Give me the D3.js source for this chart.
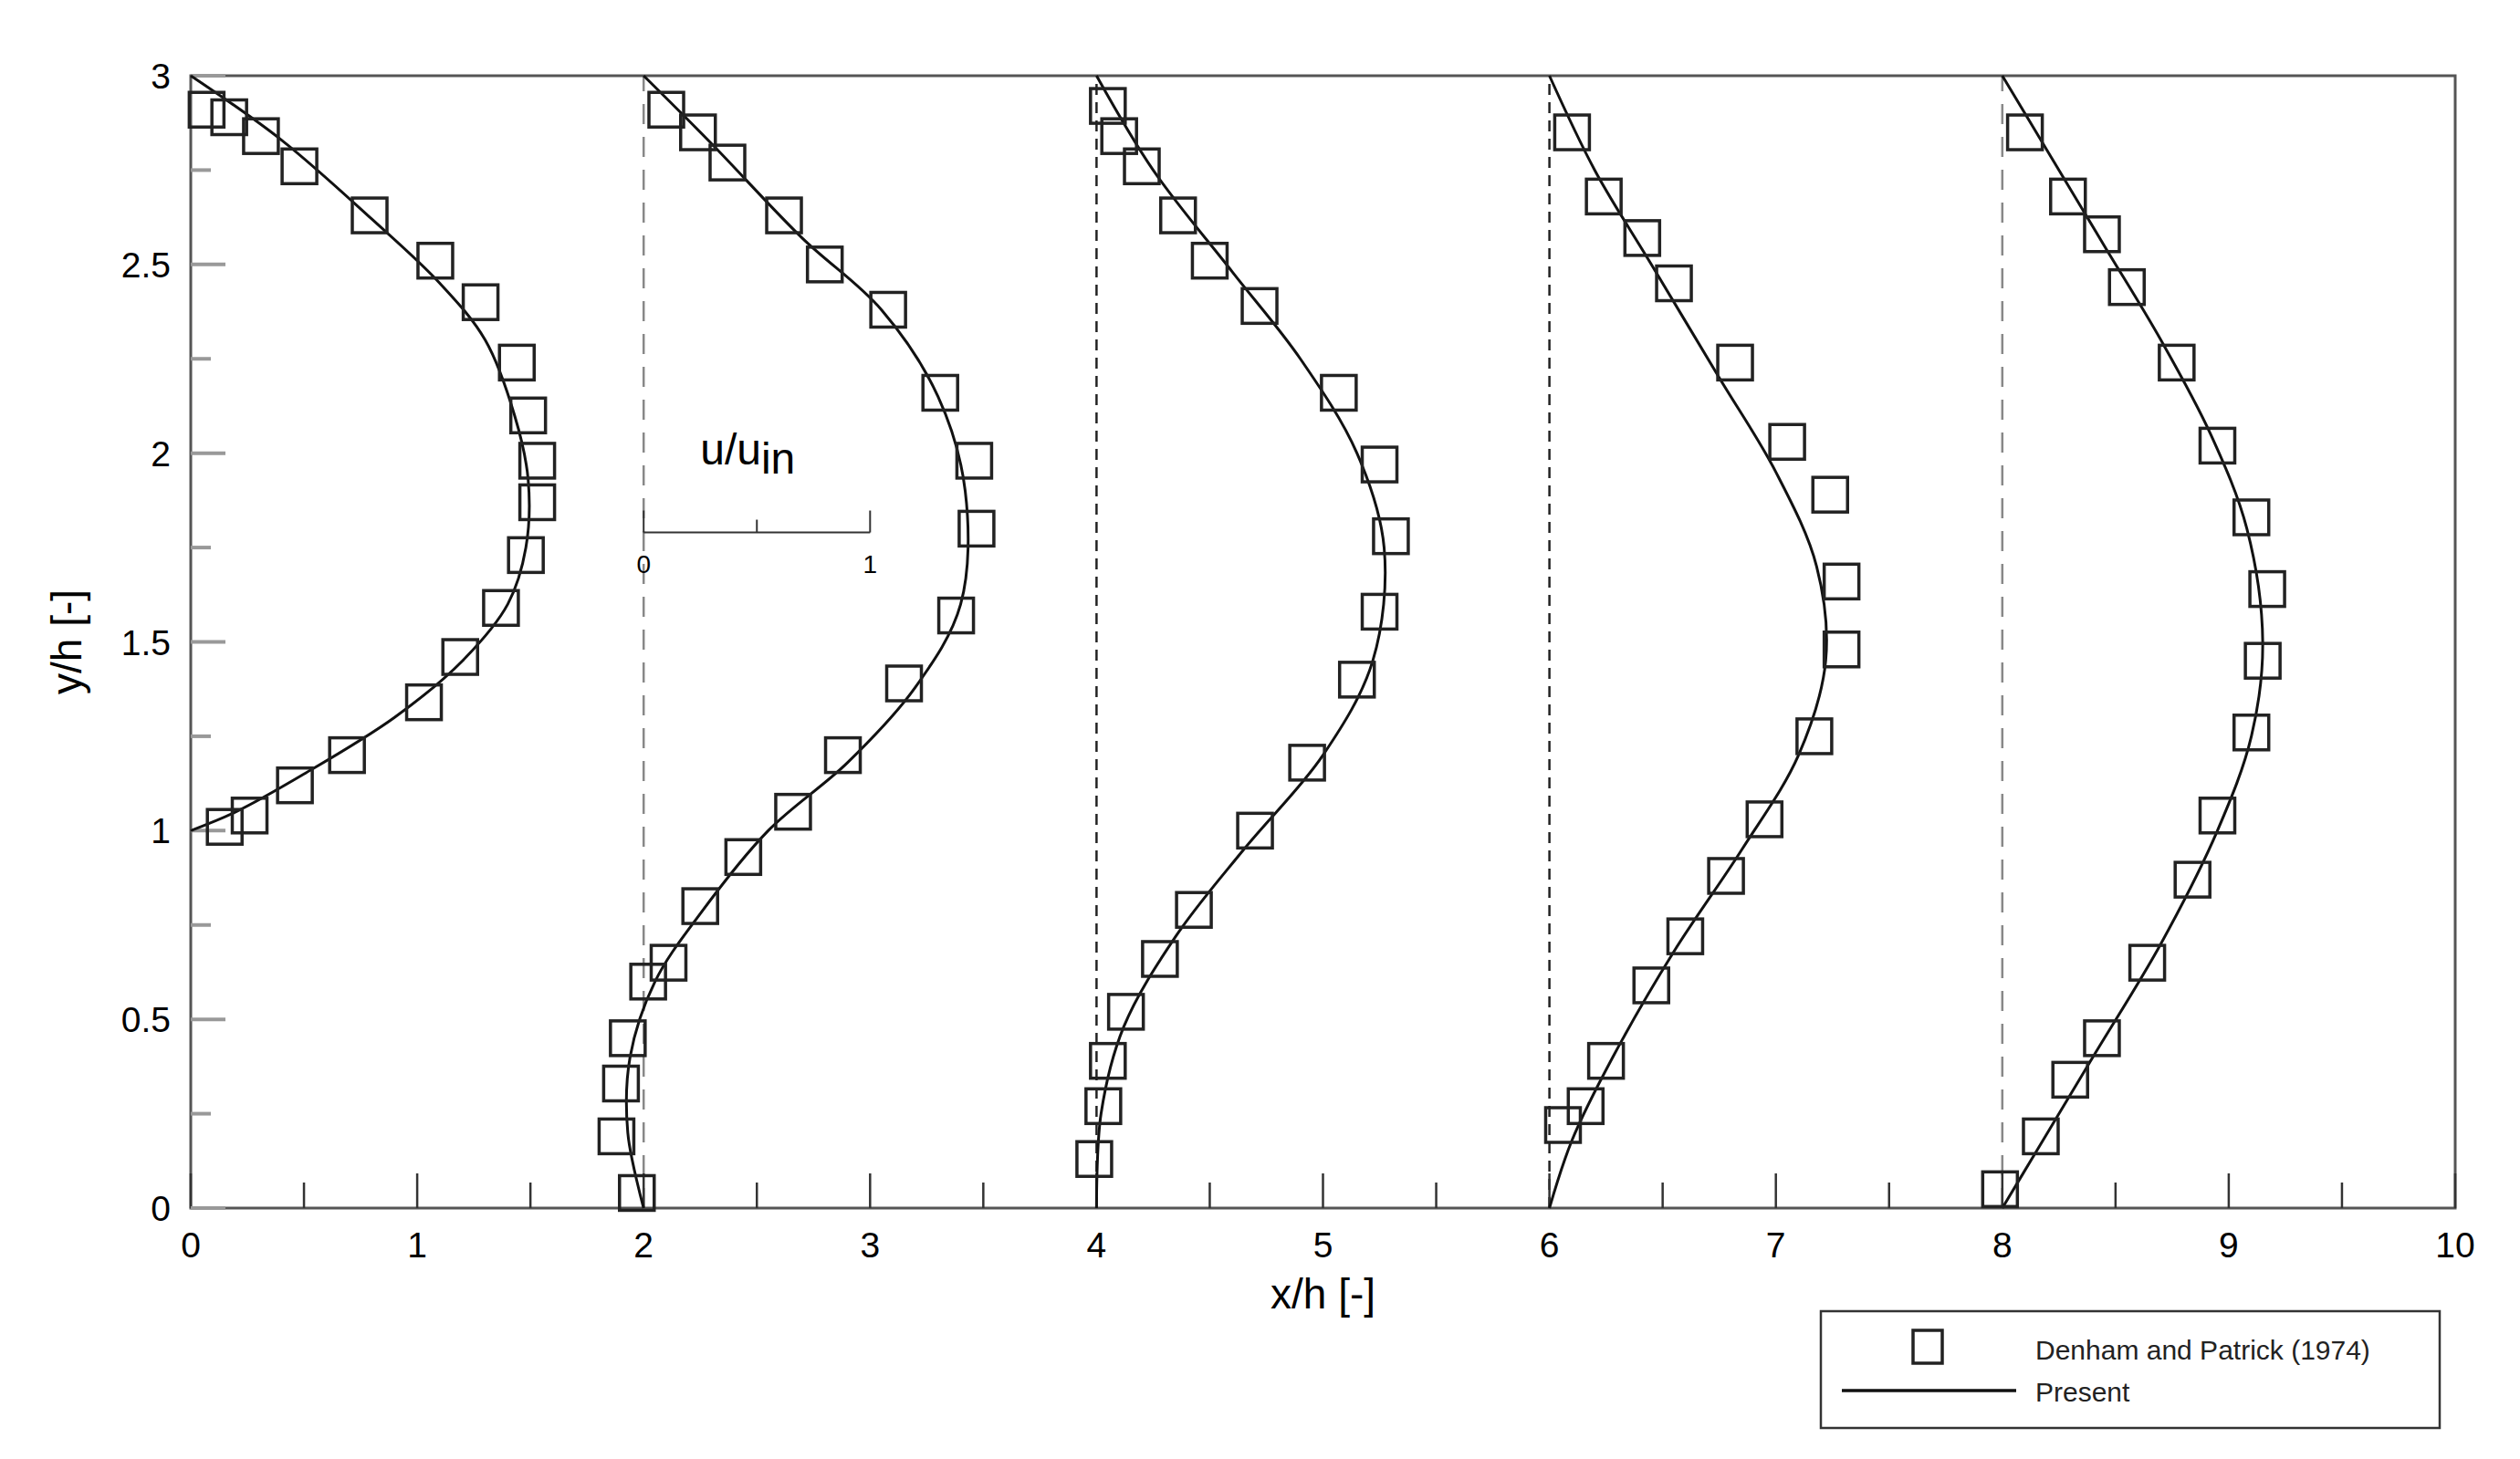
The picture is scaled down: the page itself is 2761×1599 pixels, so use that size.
<!DOCTYPE html><html><head><meta charset="utf-8">
<script src="https://cdn.jsdelivr.net/npm/d3@7"></script>
<style>body{margin:0;background:#fff}text{font-family:"Liberation Sans",Arial,sans-serif}</style></head><body>
<svg id="c" width="2761" height="1599"></svg>
<script>
const xTicks=[0,1,2,3,4,5,6,7,8,9,10];
const yTicks=[0,0.5,1,1.5,2,2.5,3];
const baselines=[2,4,6,8];
const legendLabels=["Denham and Patrick (1974)","Present"];
const sq1=[[0.07,2.91],[0.17,2.89],[0.31,2.84],[0.48,2.76],[0.79,2.63],[1.08,2.51],[1.28,2.40],[1.44,2.24],[1.49,2.10],[1.53,1.98],[1.53,1.87],[1.48,1.73],[1.37,1.59],[1.19,1.46],[1.03,1.34],[0.69,1.20],[0.46,1.12],[0.26,1.04],[0.15,1.01]];
const sq2=[[2.1,2.91],[2.24,2.85],[2.37,2.77],[2.62,2.63],[2.8,2.5],[3.08,2.38],[3.31,2.16],[3.46,1.98],[3.47,1.80],[3.38,1.57],[3.15,1.39],[2.88,1.20],[2.66,1.05],[2.44,0.93],[2.25,0.80],[2.11,0.65],[2.02,0.60],[1.93,0.45],[1.9,0.33],[1.88,0.19],[1.97,0.04]];
const sq3=[[4.05,2.92],[4.1,2.84],[4.2,2.76],[4.36,2.63],[4.5,2.51],[4.72,2.39],[5.07,2.16],[5.25,1.97],[5.3,1.78],[5.25,1.58],[5.15,1.40],[4.93,1.18],[4.7,1.0],[4.43,0.79],[4.28,0.66],[4.13,0.52],[4.05,0.39],[4.03,0.27],[3.99,0.13]];
const sq4=[[6.1,2.85],[6.24,2.68],[6.41,2.57],[6.55,2.45],[6.82,2.24],[7.05,2.03],[7.24,1.89],[7.29,1.66],[7.29,1.48],[7.17,1.25],[6.95,1.03],[6.78,0.88],[6.6,0.72],[6.45,0.59],[6.25,0.39],[6.16,0.27],[6.06,0.22]];
const sq5=[[8.1,2.85],[8.29,2.68],[8.44,2.58],[8.55,2.44],[8.77,2.24],[8.95,2.02],[9.1,1.83],[9.17,1.64],[9.15,1.45],[9.1,1.26],[8.95,1.04],[8.84,0.87],[8.64,0.65],[8.44,0.45],[8.3,0.34],[8.17,0.19],[7.99,0.05]];
const ln1=[[0,3],[0.4,2.83],[0.8,2.62],[1.1,2.45],[1.3,2.3],[1.43,2.1],[1.49,1.93],[1.48,1.75],[1.4,1.6],[1.2,1.45],[0.9,1.3],[0.5,1.15],[0.2,1.05],[0,1.0]];
const ln2=[[2,3],[2.3,2.82],[2.7,2.57],[3.05,2.38],[3.3,2.15],[3.42,1.9],[3.4,1.6],[3.2,1.38],[2.9,1.18],[2.55,1.0],[2.25,0.78],[2.05,0.6],[1.94,0.4],[1.93,0.2],[2,0]];
const ln3=[[4,3],[4.25,2.75],[4.6,2.48],[4.9,2.25],[5.15,2.0],[5.27,1.75],[5.22,1.45],[5.0,1.2],[4.65,0.95],[4.35,0.72],[4.12,0.48],[4.02,0.25],[4,0]];
const ln4=[[6,3],[6.2,2.75],[6.45,2.5],[6.75,2.2],[7.0,1.95],[7.18,1.7],[7.22,1.45],[7.1,1.2],[6.85,0.95],[6.55,0.68],[6.28,0.4],[6.1,0.18],[6,0]];
const ln5=[[8,3],[8.2,2.8],[8.45,2.55],[8.7,2.3],[8.92,2.05],[9.08,1.8],[9.15,1.5],[9.1,1.25],[8.95,1.0],[8.7,0.7],[8.4,0.4],[8.15,0.15],[8,0]];
const squares=[sq1,sq2,sq3,sq4,sq5], lines=[ln1,ln2,ln3,ln4,ln5];

const svg=d3.select("#c");
const L=209,R=2690,T=83,B=1324;
const x=d3.scaleLinear().domain([0,10]).range([L,R]);
const y=d3.scaleLinear().domain([0,3]).range([B,T]);
const g=svg.append("g");
g.selectAll(".bl").data(baselines).join("line").attr("x1",d=>x(d)).attr("x2",d=>x(d)).attr("y1",y(0)).attr("y2",y(3))
 .attr("stroke",(d,i)=>(i==1||i==2)?"#222":"#888").attr("stroke-width",2.5).attr("stroke-dasharray",(d,i)=>(i==1||i==2)?"12,8":"22,14");
g.append("rect").attr("x",L).attr("y",T).attr("width",R-L).attr("height",B-T).attr("fill","none").attr("stroke","#555").attr("stroke-width",3);
g.selectAll(".xt").data(d3.range(0,10.01,0.5)).join("line").attr("x1",d=>x(d)).attr("x2",d=>x(d)).attr("y1",B).attr("y2",d=>B-(Math.abs(d-Math.round(d))<1e-6?38:28)).attr("stroke","#333").attr("stroke-width",2.5);
g.selectAll(".yt").data(d3.range(0,3.01,0.25)).join("line").attr("y1",d=>y(d)).attr("y2",d=>y(d)).attr("x1",L).attr("x2",d=>L+(Math.abs(d*2-Math.round(d*2))<1e-6?38:22)).attr("stroke","#999").attr("stroke-width",4);
g.selectAll(".xl").data(xTicks).join("text").attr("x",d=>x(d)).attr("y",B+54).attr("text-anchor","middle").attr("font-size",39).text(d=>d);
g.selectAll(".yl").data(yTicks).join("text").attr("x",L-22).attr("y",d=>y(d)+14).attr("text-anchor","end").attr("font-size",39).text(d=>d);
svg.append("text").attr("x",x(5)).attr("y",B+110).attr("text-anchor","middle").attr("font-size",46).text("x/h [-]");
svg.append("text").attr("transform",`translate(${L-120},${y(1.5)}) rotate(-90)`).attr("text-anchor","middle").attr("font-size",46).text("y/h [-]");
const iy=y(1.79);
g.append("line").attr("x1",x(2)).attr("x2",x(3)).attr("y1",iy).attr("y2",iy).attr("stroke","#333").attr("stroke-width",2);
g.selectAll(".it").data([2,2.5,3]).join("line").attr("x1",d=>x(d)).attr("x2",d=>x(d)).attr("y1",iy).attr("y2",(d,i)=>iy-(i==1?14:24)).attr("stroke","#333").attr("stroke-width",2);
g.selectAll(".il").data([[2,"0"],[3,"1"]]).join("text").attr("x",d=>x(d[0])).attr("y",iy+44).attr("text-anchor","middle").attr("font-size",28).text(d=>d[1]);
const ut=g.append("text").attr("x",x(2.25)).attr("y",y(1.97)).attr("font-size",48).text("u/u");
ut.append("tspan").attr("dy",10).text("in");
const lg=d3.line().x(d=>x(d[0])).y(d=>y(d[1])).curve(d3.curveCatmullRom);
g.selectAll(".pl").data(lines).join("path").attr("d",lg).attr("fill","none").attr("stroke","#111").attr("stroke-width",3);
const s=38;
squares.forEach(arr=>g.selectAll(null).data(arr).join("rect").attr("x",d=>x(d[0])-s/2).attr("y",d=>y(d[1])-s/2).attr("width",s).attr("height",s).attr("fill","none").attr("stroke","#222").attr("stroke-width",3.5));
// legend
const lgd=svg.append("g");
lgd.append("rect").attr("x",1995).attr("y",1437).attr("width",678).attr("height",128).attr("fill","none").attr("stroke","#333").attr("stroke-width",2.5);
lgd.append("rect").attr("x",2096).attr("y",1458).attr("width",32).attr("height",36).attr("fill","none").attr("stroke","#222").attr("stroke-width",3.5);
lgd.append("line").attr("x1",2018).attr("x2",2209).attr("y1",1524).attr("y2",1524).attr("stroke","#111").attr("stroke-width",3.5);
lgd.selectAll(".lt").data(legendLabels).join("text").attr("x",2230).attr("y",(d,i)=>1490+i*46).attr("font-size",30).attr("fill","#222").text(d=>d);
</script></body></html>
